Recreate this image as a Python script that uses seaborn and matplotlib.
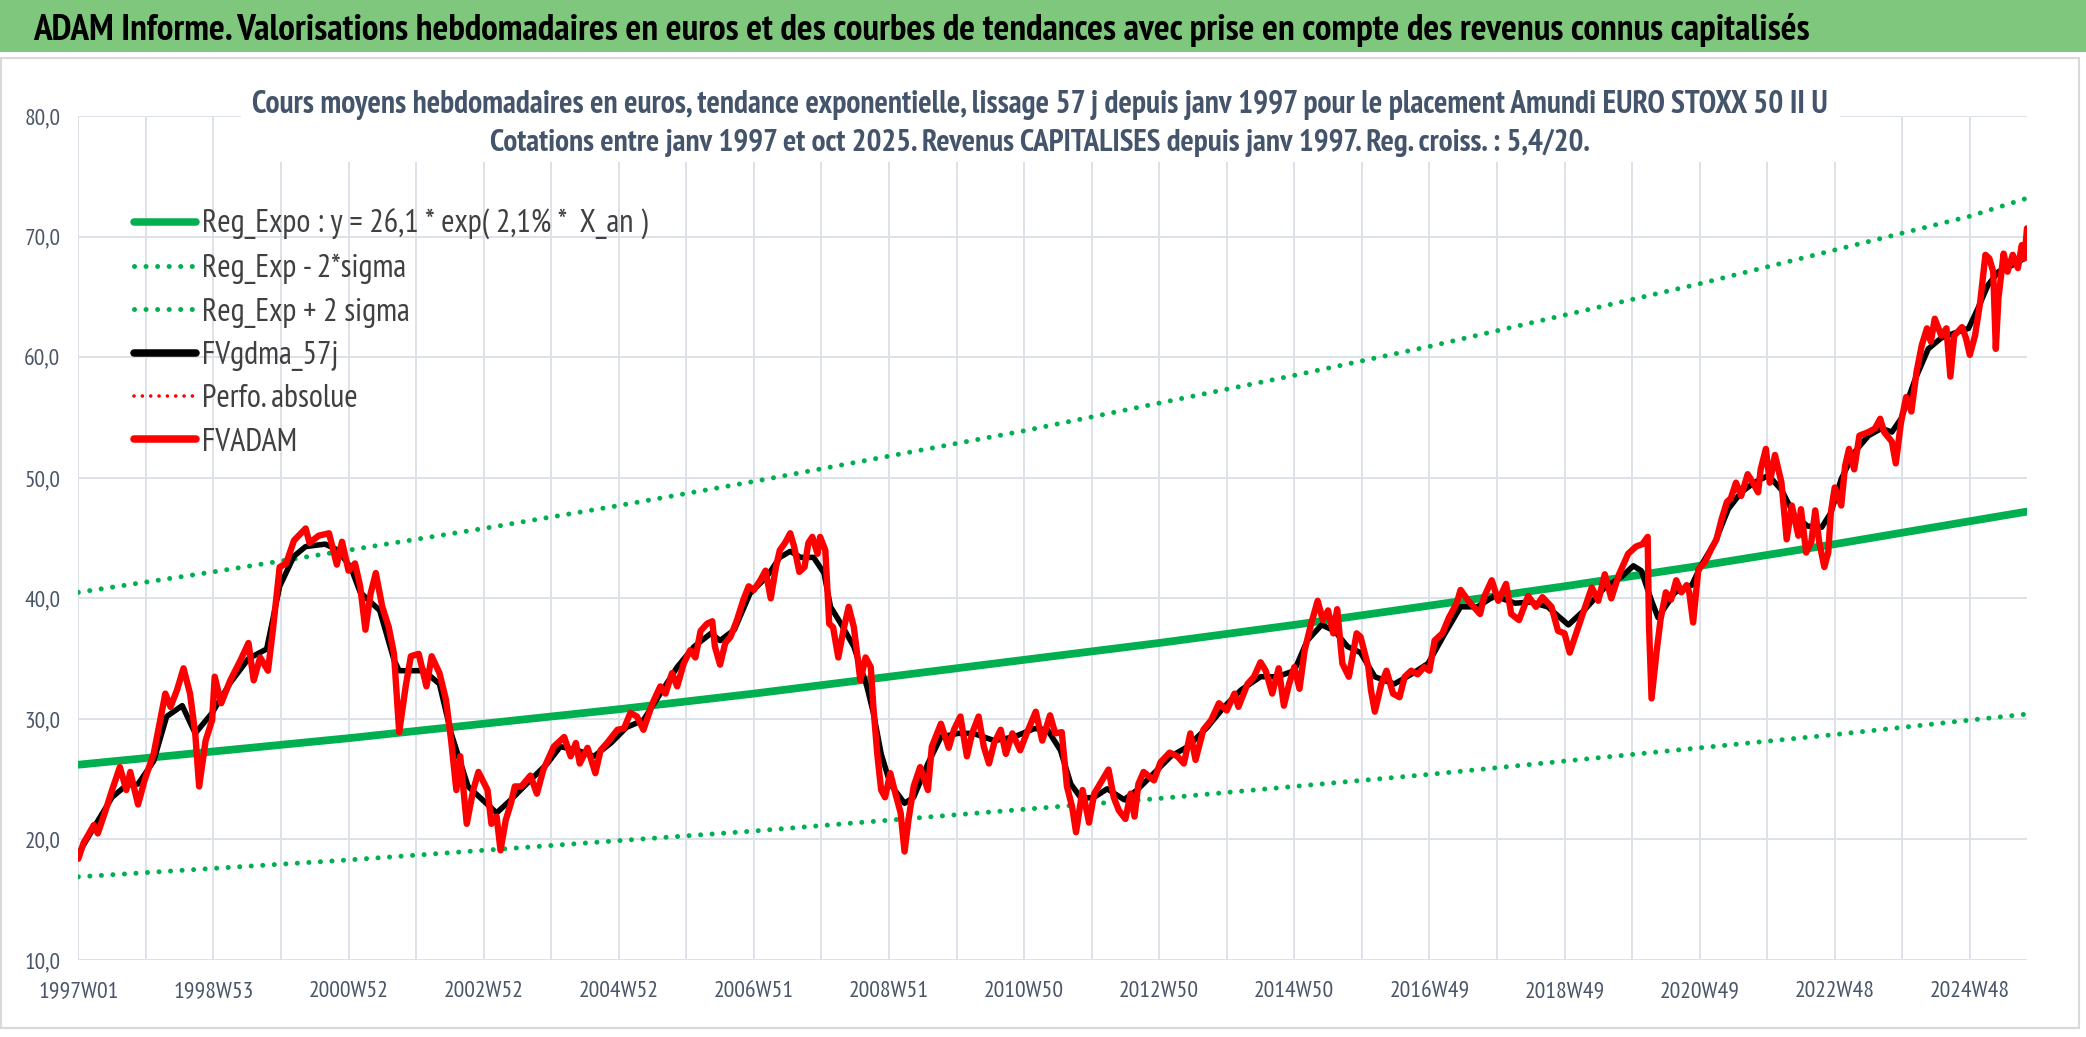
#!usr/bin/env python3
import numpy as np
import pandas as pd
import seaborn as sns
import matplotlib.pyplot as plt
import matplotlib.font_manager as fm
from matplotlib.lines import Line2D
from matplotlib.patches import Rectangle

W, H = 2086, 1037

# weekly index (0 = 1997W01)
tick_weeks = [0, 104, 208, 312, 416, 520, 624, 728, 832, 936, 1040, 1144, 1248, 1352, 1456]
tick_labels = ["1997W01", "1998W53", "2000W52", "2002W52", "2004W52", "2006W51", "2008W51",
               "2010W50", "2012W50", "2014W50", "2016W49", "2018W49", "2020W49", "2022W48", "2024W48"]

trend_weeks = [0, 104, 208, 312, 416, 520, 624, 728, 832, 936, 1040, 1144, 1248, 1352, 1456, 1500]
reg_expo = [26.2, 27.3, 28.4, 29.6, 30.8, 32.1, 33.5, 34.9, 36.3, 37.8, 39.4, 41.0, 42.7, 44.5, 46.4, 47.2]
reg_low = [16.9, 17.6, 18.3, 19.1, 19.9, 20.7, 21.6, 22.5, 23.4, 24.4, 25.4, 26.5, 27.6, 28.7, 29.9, 30.4]
reg_high = [40.5, 42.2, 44.0, 45.8, 47.7, 49.7, 51.8, 53.9, 56.2, 58.5, 60.9, 63.5, 66.1, 68.9, 71.7, 73.2]

fvadam_weeks = [
    0, 4, 12, 15, 21, 26, 32, 37, 40, 46, 51, 58, 63, 67, 71, 76, 81, 86, 90, 93, 98, 103, 105, 110,
    117, 125, 131, 135, 140, 146, 150, 155, 160, 166, 175, 178, 185, 193, 199, 203, 208, 213, 217,
    221, 225, 229, 234, 239, 243, 247, 252, 256, 262, 268, 272, 278, 283, 287, 291,
    294, 299, 304, 308, 315, 318, 322, 325, 329, 333, 336, 341, 348, 353, 358, 366, 374, 379, 383,
    386, 392, 398, 402, 407, 415, 420, 425, 430, 435, 442, 448, 452, 457, 461, 466, 471, 475, 479,
    484, 488, 490, 494, 498, 502, 507, 512, 516, 520, 525, 529, 533, 537, 540, 544, 548, 551, 555,
    559, 562, 565, 569, 571, 575, 578, 581, 585, 589, 593, 597, 602,
    606, 610, 612, 615, 618, 621, 625, 629, 633, 636, 639, 643, 648, 654, 657, 664, 670, 674, 679,
    684, 688, 693, 697, 701, 705, 710, 714, 719, 725, 730, 737, 742, 748, 752, 757, 761, 765, 768,
    773, 778, 782, 788, 793, 797, 801, 806, 810, 813, 816, 820, 828, 833, 840, 846, 851, 856, 860,
    866, 872, 878, 884, 890, 893, 900, 905,
    910, 914, 919, 924, 928, 932, 936, 940, 944, 949, 954, 958, 962, 966, 969, 973, 978, 984, 987,
    993, 995, 998, 1003, 1007, 1012, 1017, 1021, 1026, 1031, 1036, 1040, 1044, 1050, 1055, 1061,
    1064, 1070, 1079, 1082, 1088, 1093, 1099, 1103, 1109, 1116, 1122, 1127, 1134, 1139, 1144, 1148,
    1153, 1158, 1165, 1170, 1175, 1180, 1186, 1193, 1199, 1204, 1208, 1209, 1211, 1215,
    1218, 1222, 1226, 1230, 1234, 1238, 1240, 1243, 1247, 1252, 1257, 1261, 1265, 1269, 1272, 1276,
    1280, 1285, 1289, 1293, 1295, 1299, 1302, 1306, 1311, 1315, 1319, 1324, 1326, 1330, 1334, 1337,
    1340, 1344, 1347, 1349, 1352, 1357, 1360, 1363, 1367, 1371, 1378, 1383, 1387, 1390, 1396, 1399,
    1403, 1407, 1411, 1415, 1419, 1423, 1426, 1429, 1434, 1438, 1441, 1444, 1450, 1453, 1456, 1460,
    1464, 1468, 1471, 1474, 1476, 1478, 1482, 1485, 1489, 1493, 1496, 1498, 1500]
fvadam = [
    18.4, 19.7, 21.2, 20.5, 22.4, 24.1, 26.0, 24.1, 25.6, 22.9, 24.9, 27.1, 29.9, 32.1, 31.0, 32.4,
    34.2, 32.1, 28.8, 24.4, 28.2, 29.9, 33.5, 31.3, 33.2, 34.9, 36.3, 33.2, 35.1, 34.0, 37.6, 42.6,
    42.9, 44.8, 45.8, 44.6, 45.2, 45.4, 42.8, 44.7, 42.3, 42.9, 41.0, 37.4, 40.4, 42.1, 39.3, 37.6,
    35.4, 28.9, 32.7, 35.2, 35.4, 32.7, 35.2, 33.8, 31.6, 28.2, 24.1,
    26.9, 21.3, 24.1, 25.6, 24.1, 21.3, 21.9, 19.1, 21.6, 23.0, 24.4, 24.4, 25.3, 23.8, 25.8, 27.7,
    28.5, 26.9, 28.0, 26.3, 27.6, 25.5, 27.4, 28.0, 29.1, 29.2, 30.5, 30.2, 29.1, 31.3, 32.7, 32.1,
    33.8, 32.7, 34.6, 35.7, 35.1, 37.3, 37.9, 38.1, 36.0, 34.5, 36.3, 36.8, 38.2, 39.9, 41.0, 40.7,
    41.5, 42.3, 40.0, 42.6, 44.0, 44.6, 45.4, 44.3, 42.2, 42.6, 44.6, 45.1, 43.7, 45.1, 44.0, 37.9,
    37.6, 35.1, 37.4, 39.3, 37.6, 33.2,
    35.1, 34.3, 31.0, 27.1, 24.1, 23.5, 25.5, 23.8, 22.2, 19.0, 21.6, 24.4, 26.0, 24.1, 27.7, 29.6,
    27.6, 29.1, 30.2, 26.9, 28.8, 30.2, 27.7, 26.3, 28.0, 29.1, 27.1, 28.8, 27.4, 28.8, 30.6, 28.2,
    30.3, 28.8, 28.9, 24.4, 22.7, 20.6, 24.1, 21.4, 23.8, 24.9, 25.8, 23.5, 22.4, 21.7, 23.8, 21.9,
    24.6, 25.6, 24.9, 26.4, 27.2, 26.9, 26.3, 28.8, 26.6, 29.1, 29.9, 31.3, 30.7, 32.1, 31.0, 32.9,
    33.5,
    34.7, 34.0, 32.1, 34.2, 31.1, 32.9, 34.3, 32.5, 35.7, 37.9, 39.8, 38.2, 39.0, 37.1, 39.1, 34.6,
    33.5, 37.1, 36.8, 34.3, 32.4, 30.6, 32.9, 34.0, 32.1, 31.8, 33.5, 34.0, 33.7, 34.3, 34.0, 36.5,
    37.1, 38.4, 39.6, 40.7, 39.8, 38.7, 40.1, 41.5, 39.8, 41.2, 38.7, 38.2, 40.2, 39.3, 40.1, 39.3,
    37.3, 37.1, 35.5, 37.1, 38.7, 40.9, 39.8, 42.0, 40.0, 42.0, 43.7, 44.3, 44.5, 45.1, 37.9, 31.7,
    35.7,
    38.3, 40.5, 39.9, 41.5, 40.5, 41.1, 40.5, 38.0, 42.4, 43.0, 44.1, 44.9, 46.6, 48.0, 48.3, 49.6,
    48.5, 50.3, 49.6, 48.8, 50.7, 52.4, 49.6, 51.9, 49.6, 44.9, 47.7, 45.2, 47.4, 43.8, 44.7, 47.3,
    44.7, 42.6, 43.8, 47.1, 49.2, 47.7, 51.0, 52.4, 50.7, 53.5, 53.8, 54.1, 54.9, 53.8, 53.0, 51.2,
    54.6, 56.7, 55.5, 58.8, 61.0, 62.4, 61.3, 63.2, 61.8, 62.4, 58.4, 61.8, 62.5, 61.6, 60.2, 61.8,
    64.6, 68.5, 68.2, 67.1, 60.7, 64.9, 68.6, 67.1, 68.5, 67.4, 69.3, 68.2, 70.7]

gdma_weeks = [
    0, 12, 26, 37, 46, 58, 68, 80, 90, 103, 117, 131, 145, 155, 166, 175, 190, 200, 210, 217, 232,
    243, 247, 266, 278, 287, 300, 322, 333, 345, 361, 371, 384, 397, 410, 422, 435, 448, 461, 474,
    487, 494, 505, 517, 530, 540, 548, 556, 566, 574, 579, 587, 597, 607, 612, 618, 625, 636, 643,
    654, 664, 677, 689, 705, 720, 736, 746, 756, 764, 772, 782, 792, 805, 815, 828, 841, 854, 869,
    882, 895, 910, 923, 936, 946, 957, 967, 977, 987, 998, 1013, 1026, 1039, 1052, 1064, 1077,
    1090, 1106, 1118, 1131, 1147, 1159, 1175, 1188, 1197, 1203, 1211, 1216, 1229, 1242, 1249,
    1260, 1270, 1280, 1290, 1301, 1311, 1321, 1331, 1342, 1349, 1357, 1367, 1378, 1388, 1396,
    1403, 1414, 1424, 1434, 1444, 1455, 1462, 1470, 1478, 1488, 1498]
gdma = [
    18.8, 21.0, 23.5, 24.5, 24.6, 26.5, 30.2, 31.1, 28.8, 30.5, 33.0, 35.0, 35.8, 41.0, 43.5, 44.3,
    44.5, 44.0, 42.5, 40.5, 39.0, 34.9, 34.0, 34.0, 32.9, 28.8, 24.4, 22.2, 23.3, 24.6, 26.3, 27.7,
    27.4, 26.9, 28.0, 29.3, 29.9, 32.1, 34.3, 36.0, 37.1, 36.5, 37.4, 40.4, 41.8, 43.4, 43.9, 43.4,
    43.4, 42.1, 39.3, 37.9, 36.0, 32.7, 30.5, 27.1, 24.6, 23.0, 23.5, 26.3, 28.5, 28.8, 28.8, 28.2,
    28.5, 29.2, 29.1, 27.4, 24.6, 23.4, 23.5, 24.2, 23.3, 24.1, 25.5, 26.9, 27.7, 29.3, 31.0, 32.4,
    33.5, 33.5, 34.0, 36.5, 37.8, 37.3, 36.0, 35.5, 33.5, 32.9, 33.7, 34.6, 37.1, 39.3, 39.3, 40.2,
    39.6, 39.7, 39.3, 37.8, 39.0, 40.9, 41.8, 42.7, 42.3, 39.8, 38.4, 40.5, 41.1, 42.7, 44.7, 47.4,
    48.8, 49.6, 50.2, 49.0, 46.9, 46.0, 45.9, 47.1, 49.9, 52.1, 53.5, 54.1, 53.8, 54.9, 58.2, 60.7,
    61.6, 62.0, 62.4, 64.0, 66.0, 67.1, 67.6, 68.2]

legend_labels = ["Reg_Expo : y = 26,1 * exp( 2,1% *  X_an )", "Reg_Exp - 2*sigma",
                 "Reg_Exp + 2 sigma", "FVgdma_57j", "Perfo. absolue", "FVADAM"]

GREEN = "#00B050"
RED = "#FF0000"
SLATE = "#44546A"
GRID = "#DDE1E8"


def pick_font():
    # narrow humanist face, close to a squeezed Calibri
    names = {f.name for f in fm.fontManager.ttflist}
    for name in ["PT Sans Narrow", "Roboto Condensed", "Fira Sans Condensed", "Encode Sans Condensed",
                 "Asap Condensed", "Archivo Narrow", "Carlito"]:
        if name in names:
            return name
    return "Liberation Sans"


def fit_width(txt, target_px, renderer):
    w = txt.get_window_extent(renderer).width
    txt.set_fontsize(txt.get_fontsize() * target_px / w)


def main():
    sns.set_theme(style="white")
    fam = pick_font()
    plt.rcParams["font.family"] = [fam, "DejaVu Sans"]

    fig = plt.figure(figsize=(W / 100, H / 100), dpi=100)
    fig.patch.set_facecolor("white")

    # green banner + chart frame
    fig.add_artist(Rectangle((0, 1 - 52 / H), 1, 52 / H, transform=fig.transFigure,
                             facecolor="#7EC77C", edgecolor="none", zorder=1))
    fig.add_artist(Rectangle((1 / W, 9 / H), 2078 / W, 970 / H, transform=fig.transFigure,
                             facecolor="none", edgecolor="#D9D9D9", lw=1.5, zorder=1))

    ax = fig.add_axes([78.3 / W, 1 - 960 / H, (2027 - 78.3) / W, (960 - 116.2) / H])
    ax.set_facecolor("none")

    trend = pd.DataFrame({"week": trend_weeks, "reg": reg_expo, "low": reg_low, "high": reg_high})
    fv = pd.DataFrame({"week": fvadam_weeks, "value": fvadam})
    gd = pd.DataFrame({"week": gdma_weeks, "value": gdma})

    dot = (0, (0.01, 2.3))
    sns.lineplot(data=trend, x="week", y="reg", ax=ax, color=GREEN, lw=5.6,
                 solid_capstyle="round", legend=False)
    sns.lineplot(data=trend, x="week", y="low", ax=ax, color=GREEN, lw=3.6,
                 linestyle=dot, dash_capstyle="round", legend=False)
    sns.lineplot(data=trend, x="week", y="high", ax=ax, color=GREEN, lw=3.6,
                 linestyle=dot, dash_capstyle="round", legend=False)
    sns.lineplot(data=gd, x="week", y="value", ax=ax, color="black", lw=4.0,
                 solid_joinstyle="round", legend=False)
    sns.lineplot(data=fv, x="week", y="value", ax=ax, color=RED, lw=4.6,
                 solid_joinstyle="round", legend=False)

    ax.set_xlim(0, fvadam_weeks[-1])
    ax.set_ylim(10, 80)
    ax.set_xticks(tick_weeks)
    ax.set_xticklabels(tick_labels)
    ax.set_xticks(np.arange(52, fvadam_weeks[-1], 104), minor=True)
    ax.set_yticks(np.arange(10, 81, 10))
    ax.set_yticklabels(["{:.1f}".format(v).replace(".", ",") for v in np.arange(10, 81, 10)])
    ax.set_xlabel("")
    ax.set_ylabel("")
    ax.grid(True, which="both", axis="x", color=GRID, lw=1.4)
    ax.grid(True, which="major", axis="y", color=GRID, lw=1.4)
    ax.set_axisbelow(True)
    for s in ax.spines.values():
        s.set_visible(False)
    ax.tick_params(axis="both", which="both", length=0, colors="#4A5568", labelsize=16)
    ax.tick_params(axis="x", pad=15)
    ax.tick_params(axis="y", pad=13)

    handles = [
        Line2D([], [], color=GREEN, lw=5.4, solid_capstyle="round"),
        Line2D([], [], color=GREEN, lw=3.6, linestyle=dot, dash_capstyle="round"),
        Line2D([], [], color=GREEN, lw=3.6, linestyle=dot, dash_capstyle="round"),
        Line2D([], [], color="black", lw=5.4, solid_capstyle="round"),
        Line2D([], [], color=RED, lw=2.6, linestyle=dot, dash_capstyle="round"),
        Line2D([], [], color=RED, lw=5.4, solid_capstyle="round"),
    ]

    title = fig.text(33 / W, 1 - 30 / H, "ADAM Informe. Valorisations hebdomadaires en euros et des courbes "
                     "de tendances avec prise en compte des revenus connus capitalisés",
                     ha="left", va="center", fontsize=24, fontweight="bold", color="black", zorder=5)
    sub1 = fig.text(1040 / W, 1 - 105 / H, "Cours moyens hebdomadaires en euros, tendance exponentielle, "
                    "lissage 57 j depuis janv 1997 pour le placement Amundi EURO STOXX 50 II U",
                    ha="center", va="center", fontsize=20, fontweight="bold", color=SLATE, zorder=5)
    sub2 = fig.text(1040 / W, 1 - 143 / H, "Cotations entre janv 1997 et oct 2025. Revenus CAPITALISES "
                    "depuis janv 1997. Reg. croiss. : 5,4/20.",
                    ha="center", va="center", fontsize=20, fontweight="bold", color=SLATE, zorder=5)
    fig.add_artist(Rectangle((241 / W, 1 - 162 / H), (1840 - 241) / W, 78 / H, transform=fig.transFigure,
                             facecolor="white", edgecolor="none", zorder=4))

    renderer = fig.canvas.get_renderer()
    fit_width(title, 1782, renderer)
    fit_width(sub1, 1580, renderer)
    fit_width(sub2, 1100, renderer)

    fig.canvas.draw()
    lab = ax.get_xticklabels()[0]
    size_x = lab.get_fontsize() * 80 / lab.get_window_extent(renderer).width
    lab = ax.get_yticklabels()[6]
    size_y = lab.get_fontsize() * 36 / lab.get_window_extent(renderer).width
    ax.tick_params(axis="x", labelsize=size_x)
    ax.tick_params(axis="y", labelsize=size_y)

    fs = 21
    leg = ax.legend(handles, legend_labels, loc="upper left", frameon=False, fontsize=fs)
    fig.canvas.draw()
    fs = fs * 445 / leg.get_texts()[0].get_window_extent(renderer).width
    fpx = fs / 0.72
    leg = ax.legend(handles, legend_labels, loc="upper left", frameon=False, fontsize=fs,
                    handlelength=62 / fpx, handletextpad=6 / fpx, labelspacing=(50.3 - 1.15 * fpx) / fpx,
                    borderpad=0, borderaxespad=0,
                    bbox_to_anchor=(134 / W, 1 - (228.5 - 0.6 * fpx) / H), bbox_transform=fig.transFigure)
    for t in leg.get_texts():
        t.set_color("#404040")

    fig.savefig("out.png", dpi=100)


if __name__ == "__main__": main()
